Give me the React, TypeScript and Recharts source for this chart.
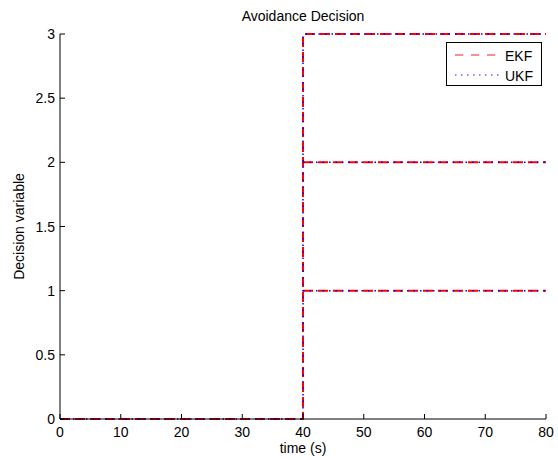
import React from 'react';
import { LineChart, Line, XAxis, YAxis, Customized } from 'recharts';

const seriesNames = ['EKF', 'UKF'];
const seriesColors = ['#ff0000', '#0000ff'];
const seriesDash = ['10 5', '1.5 5'];
const seriesWidth = [2, 1.5];
const timeValues = [0, 40, 40, 80, 80, 40, 80, 80, 40, 80];
const ekfDecision = [0, 0, 3, 3, null, 2, 2, null, 1, 1];
const ukfDecision = [0, 0, 3, 3, null, 2, 2, null, 1, 1];
const xTicks = [0, 10, 20, 30, 40, 50, 60, 70, 80];
const yTicks = [0, 0.5, 1, 1.5, 2, 2.5, 3];
const titleText = 'Avoidance Decision';
const xLabelText = 'time (s)';
const yLabelText = 'Decision variable';

const data = timeValues.map((t, i) => ({ t, EKF: ekfDecision[i], UKF: ukfDecision[i] }));

const FONT = '"Liberation Sans", Arial, Helvetica, sans-serif';
const FS = 14;

const BottomTick = (props: any) => {
  const { x, y, payload } = props;
  return (
    <g>
      <line x1={x} y1={y} x2={x} y2={y - 5} stroke="#000" strokeWidth={1} />
      <text x={x} y={y + 18} textAnchor="middle" fontSize={FS} fontFamily={FONT} fill="#000">
        {payload.value}
      </text>
    </g>
  );
};
const TopTick = (props: any) => {
  const { x, y } = props;
  return <line x1={x} y1={y} x2={x} y2={y + 5} stroke="#000" strokeWidth={1} />;
};
const LeftTick = (props: any) => {
  const { x, y, payload } = props;
  return (
    <g>
      <line x1={x} y1={y} x2={x + 5} y2={y} stroke="#000" strokeWidth={1} />
      <text x={x - 5} y={y + 5} textAnchor="end" fontSize={FS} fontFamily={FONT} fill="#000">
        {payload.value}
      </text>
    </g>
  );
};
const RightTick = (props: any) => {
  const { x, y } = props;
  return <line x1={x} y1={y} x2={x - 5} y2={y} stroke="#000" strokeWidth={1} />;
};

const legendDash = ['8 8', '1.5 4.5'];

const Decorations = () => (
  <g>
    <text x={303} y={21} textAnchor="middle" fontSize={FS} fontFamily={FONT} fill="#000">
      {titleText}
    </text>
    <text x={303} y={453} textAnchor="middle" fontSize={FS} fontFamily={FONT} fill="#000">
      {xLabelText}
    </text>
    <text
      x={24}
      y={226.5}
      transform="rotate(-90 24 226.5)"
      textAnchor="middle"
      fontSize={FS}
      fontFamily={FONT}
      fill="#000"
    >
      {yLabelText}
    </text>
    <g>
      <rect x={446.5} y={42.5} width={95} height={43} fill="#fff" stroke="#000" strokeWidth={1} />
      {seriesNames.map((name, i) => (
        <g key={name}>
          <path
            d={`M455,${55 + i * 20}L500,${55 + i * 20}`}
            fill="none"
            style={{ stroke: seriesColors[i], strokeDasharray: legendDash[i], strokeWidth: 1.5, strokeOpacity: 0.6 }}
          />
          <text x={505} y={60.5 + i * 20} fontSize={FS} fontFamily={FONT} fill="#000">
            {name}
          </text>
        </g>
      ))}
    </g>
  </g>
);

export default function App() {
  return (
    <div style={{ position: 'absolute', left: 0, top: 0, background: '#fff' }}>
      <LineChart width={558} height={460} data={data} margin={{ top: 34, right: 12, bottom: 0, left: 0 }}>
        <XAxis
          xAxisId="b"
          dataKey="t"
          type="number"
          domain={[0, 80]}
          ticks={xTicks}
          orientation="bottom"
          height={41}
          tickSize={0}
          tickMargin={0}
          axisLine={{ stroke: '#000' }}
          tickLine={false}
          tick={<BottomTick />}
          interval={0}
        />
        <XAxis
          xAxisId="t"
          dataKey="t"
          type="number"
          domain={[0, 80]}
          ticks={xTicks}
          orientation="top"
          height={0}
          tickSize={0}
          tickMargin={0}
          axisLine={{ stroke: '#000' }}
          tickLine={false}
          tick={<TopTick />}
          interval={0}
        />
        <YAxis
          yAxisId="l"
          type="number"
          domain={[0, 3]}
          ticks={yTicks}
          orientation="left"
          width={60}
          tickSize={0}
          tickMargin={0}
          axisLine={{ stroke: '#000' }}
          tickLine={false}
          tick={<LeftTick />}
          interval={0}
        />
        <YAxis
          yAxisId="r"
          type="number"
          domain={[0, 3]}
          ticks={yTicks}
          orientation="right"
          width={0}
          tickSize={0}
          tickMargin={0}
          axisLine={{ stroke: '#000' }}
          tickLine={false}
          tick={<RightTick />}
          interval={0}
        />
        {seriesNames.map((name, i) => (
          <Line
            key={name}
            xAxisId="b"
            yAxisId="l"
            dataKey={name}
            type="linear"
            stroke={seriesColors[i]}
            strokeDasharray={seriesDash[i]}
            strokeWidth={seriesWidth[i]}
            dot={false}
            activeDot={false}
            isAnimationActive={false}
            connectNulls={false}
          />
        ))}
        <Customized component={<Decorations />} />
      </LineChart>
    </div>
  );
}
